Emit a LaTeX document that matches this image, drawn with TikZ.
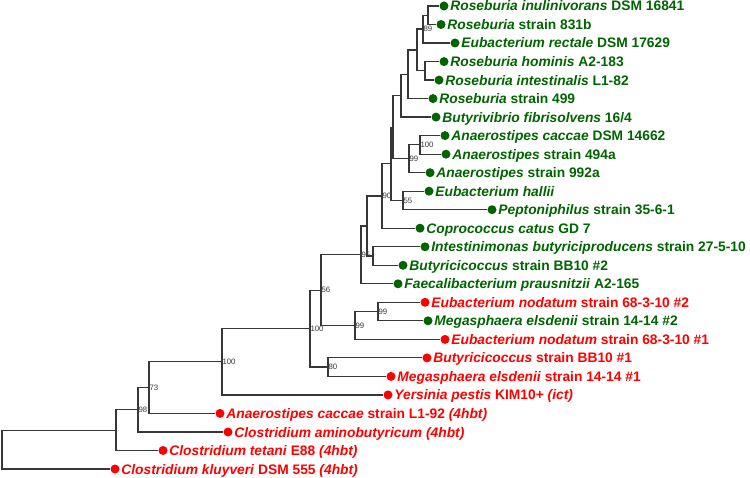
\documentclass[tikz,border=0pt]{standalone}
\usepackage{fontspec}
\setmainfont{Liberation Sans}
\usepackage{xcolor}
\definecolor{grn}{RGB}{0,100,0}
\definecolor{rd}{RGB}{255,0,0}
\definecolor{twig}{RGB}{55,55,55}
\usetikzlibrary{positioning}

\tikzset{
  branch/.style={draw=twig, line width=1.2pt},
  leaf/.style={circle, inner sep=0pt, minimum size=9pt},
  taxon/.style={font=\fontsize{13.8}{16}\selectfont\bfseries, inner sep=1.5pt,
                text height=10pt, text depth=0pt},
  boot/.style={font=\fontsize{7.8}{9}\selectfont, text=twig, inner sep=0.3pt, anchor=west}
}

\begin{document}
\begin{tikzpicture}[x=1pt, y=-1pt]
  \useasboundingbox (0,0) rectangle (750,478);
  % Tips, top to bottom: dot, then its name.
  \node[leaf, fill=grn] (t1)  at (444,6)     {};
  \node[leaf, fill=grn] (t2)  at (441,24.5)  {};
  \node[leaf, fill=grn] (t3)  at (455,43)    {};
  \node[leaf, fill=grn] (t4)  at (444,61.6)  {};
  \node[leaf, fill=grn] (t5)  at (439,80.1)  {};
  \node[leaf, fill=grn] (t6)  at (433,98.6)  {};
  \node[leaf, fill=grn] (t7)  at (436,117.1) {};
  \node[leaf, fill=grn] (t8)  at (445,135.6) {};
  \node[leaf, fill=grn] (t9)  at (446,154.2) {};
  \node[leaf, fill=grn] (t10) at (430,172.7) {};
  \node[leaf, fill=grn] (t11) at (429,191.2) {};
  \node[leaf, fill=grn] (t12) at (492,209.7) {};
  \node[leaf, fill=grn] (t13) at (420,228.2) {};
  \node[leaf, fill=grn] (t14) at (425,246.8) {};
  \node[leaf, fill=grn] (t15) at (403,265.3) {};
  \node[leaf, fill=grn] (t16) at (398,283.8) {};
  \node[leaf, fill=rd]  (t17) at (425,302.3) {};
  \node[leaf, fill=grn] (t18) at (428,320.8) {};
  \node[leaf, fill=rd]  (t19) at (445,339.4) {};
  \node[leaf, fill=rd]  (t20) at (427,357.9) {};
  \node[leaf, fill=rd]  (t21) at (391,376.4) {};
  \node[leaf, fill=rd]  (t22) at (388,394.9) {};
  \node[leaf, fill=rd]  (t23) at (220,413.4) {};
  \node[leaf, fill=rd]  (t24) at (228,432)   {};
  \node[leaf, fill=rd]  (t25) at (163,450.5) {};
  \node[leaf, fill=rd]  (t26) at (115,469)   {};
  \node[taxon, text=grn, right=0pt of t1]  (l1)  {\textit{Roseburia inulinivorans} DSM 16841};
  \node[taxon, text=grn, right=0pt of t2]  (l2)  {\textit{Roseburia} strain 831b};
  \node[taxon, text=grn, right=0pt of t3]  (l3)  {\textit{Eubacterium rectale} DSM 17629};
  \node[taxon, text=grn, right=0pt of t4]  (l4)  {\textit{Roseburia hominis} A2-183};
  \node[taxon, text=grn, right=0pt of t5]  (l5)  {\textit{Roseburia intestinalis} L1-82};
  \node[taxon, text=grn, right=0pt of t6]  (l6)  {\textit{Roseburia} strain 499};
  \node[taxon, text=grn, right=0pt of t7]  (l7)  {\textit{Butyrivibrio fibrisolvens} 16/4};
  \node[taxon, text=grn, right=0pt of t8]  (l8)  {\textit{Anaerostipes caccae} DSM 14662};
  \node[taxon, text=grn, right=0pt of t9]  (l9)  {\textit{Anaerostipes} strain 494a};
  \node[taxon, text=grn, right=0pt of t10] (l10) {\textit{Anaerostipes} strain 992a};
  \node[taxon, text=grn, right=0pt of t11] (l11) {\textit{Eubacterium hallii}};
  \node[taxon, text=grn, right=0pt of t12] (l12) {\textit{Peptoniphilus} strain 35-6-1};
  \node[taxon, text=grn, right=0pt of t13] (l13) {\textit{Coprococcus catus} GD 7};
  \node[taxon, text=grn, right=0pt of t14] (l14) {\textit{Intestinimonas butyriciproducens} strain 27-5-10};
  \node[taxon, text=grn, right=0pt of t15] (l15) {\textit{Butyricicoccus} strain BB10 \#2};
  \node[taxon, text=grn, right=0pt of t16] (l16) {\textit{Faecalibacterium prausnitzii} A2-165};
  \node[taxon, text=rd,  right=0pt of t17] (l17) {\textit{Eubacterium nodatum} strain 68-3-10 \#2};
  \node[taxon, text=grn, right=0pt of t18] (l18) {\textit{Megasphaera elsdenii} strain 14-14 \#2};
  \node[taxon, text=rd,  right=0pt of t19] (l19) {\textit{Eubacterium nodatum} strain 68-3-10 \#1};
  \node[taxon, text=rd,  right=0pt of t20] (l20) {\textit{Butyricicoccus} strain BB10 \#1};
  \node[taxon, text=rd,  right=0pt of t21] (l21) {\textit{Megasphaera elsdenii} strain 14-14 \#1};
  \node[taxon, text=rd,  right=0pt of t22] (l22) {\textit{Yersinia pestis} KIM10+ \textit{(ict)}};
  \node[taxon, text=rd,  right=0pt of t23] (l23) {\textit{Anaerostipes caccae} strain L1-92 \textit{(4hbt)}};
  \node[taxon, text=rd,  right=0pt of t24] (l24) {\textit{Clostridium aminobutyricum (4hbt)}};
  \node[taxon, text=rd,  right=0pt of t25] (l25) {\textit{Clostridium tetani} E88 \textit{(4hbt)}};
  \node[taxon, text=rd,  right=0pt of t26] (l26) {\textit{Clostridium kluyveri} DSM 555 \textit{(4hbt)}};
  % Internal nodes (each sits halfway between its two children).
  \coordinate (a1)    at (428,15.3);
  \coordinate (n89)   at (423,29.1);
  \coordinate (a2)    at (425,70.8);
  \coordinate (a3)    at (417,50.0);
  \coordinate (a4)    at (408,74.3);
  \coordinate (a5)    at (401,95.7);
  \coordinate (n100a) at (420,144.9);
  \coordinate (n99a)  at (409,158.8);
  \coordinate (a6)    at (393,127.3);
  \coordinate (n55)   at (403,200.5);
  \coordinate (a7)    at (391,163.9);
  \coordinate (n90)   at (382,196.1);
  \coordinate (nib)   at (373,256.0);
  \coordinate (na)    at (367,226.0);
  \coordinate (n95)   at (361,254.9);
  \coordinate (nnm)   at (378,311.6);
  \coordinate (n99b)  at (355,325.5);
  \coordinate (n56)   at (321,290.2);
  \coordinate (n80)   at (328,367.1);
  \coordinate (n100b) at (310,328.7);
  \coordinate (n100c) at (222,361.8);
  \coordinate (n73)   at (149,387.6);
  \coordinate (n98)   at (138,409.8);
  \coordinate (a8)    at (116,430.1);
  \coordinate (root)  at (2,449.6);
  % Elbow branches, parent to child.
  \foreach \p/\c in {a1/t1, a1/t2, n89/a1, n89/t3, a2/t4, a2/t5, a3/n89, a3/a2,
                     a4/a3, a4/t6, a5/a4, a5/t7, n100a/t8, n100a/t9, n99a/n100a, n99a/t10,
                     a6/a5, a6/n99a, n55/t11, n55/t12, a7/a6, a7/n55, n90/a7, n90/t13,
                     nib/t14, nib/t15, na/n90, na/nib, n95/na, n95/t16,
                     nnm/t17, nnm/t18, n99b/nnm, n99b/t19, n56/n95, n56/n99b,
                     n80/t20, n80/t21, n100b/n56, n100b/n80, n100c/n100b, n100c/t22,
                     n73/n100c, n73/t23, n98/n73, n98/t24, a8/n98, a8/t25, root/a8, root/t26}
    \draw[branch] (\p) |- (\c);
  % Bootstrap support.
  \node[boot] (s89)   at (n89)   {89};
  \node[boot] (s100a) at (n100a) {100};
  \node[boot] (s99a)  at (n99a)  {99};
  \node[boot] (s55)   at (n55)   {55};
  \node[boot] (s90)   at (n90)   {90};
  \node[boot] (s95)   at (n95)   {95};
  \node[boot] (s99c)  at (nnm)   {99};
  \node[boot] (s99b)  at (n99b)  {99};
  \node[boot] (s56)   at (n56)   {56};
  \node[boot] (s80)   at (n80)   {80};
  \node[boot] (s100b) at (n100b) {100};
  \node[boot] (s100c) at (n100c) {100};
  \node[boot] (s73)   at (n73)   {73};
  \node[boot] (s98)   at (n98)   {98};
\end{tikzpicture}
\end{document}
